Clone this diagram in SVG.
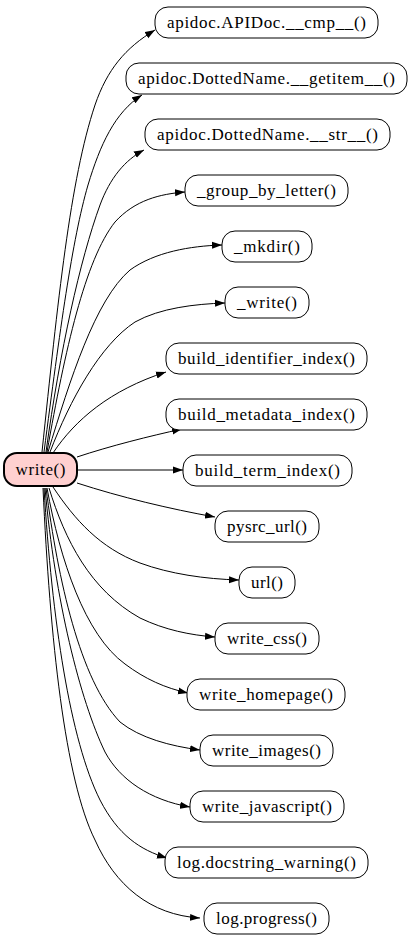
<svg xmlns="http://www.w3.org/2000/svg" width="413" height="939" viewBox="0 0 413 939">
<style>
.n rect{fill:#ffffff;stroke:#000000;stroke-width:1}
.n text{font-family:"Liberation Serif","Times New Roman",serif;font-size:17px;fill:#000000;text-anchor:middle}
#write rect{fill:#ffd0d0;stroke-width:2}
#edges path{fill:none;stroke:#000000;stroke-width:1;marker-end:url(#ah)}
</style>
<defs>
<marker id="ah" markerWidth="10" markerHeight="8" refX="10" refY="4" orient="auto" markerUnits="userSpaceOnUse">
<path d="M0,0.5 L10,4 L0,7.5 z" fill="#000000"/>
</marker>
</defs>
<rect width="413" height="939" fill="#ffffff"/>
<g id="edges">
<path d="M42,452 C58,300 70,180 95,105 C107,70 125,48 155,30"/>
<path d="M44,452 C60,330 72,240 88,185 C100,145 115,112 142,95"/>
<path d="M46,452 C60,350 80,260 100,205 C110,178 125,160 144,150"/>
<path d="M47,452 C65,350 85,260 115,222 C135,200 160,194 185,192"/>
<path d="M48,452 C70,380 95,300 130,270 C155,252 190,246 222,245"/>
<path d="M50,452 C70,400 100,345 135,322 C160,308 195,304 225,303"/>
<path d="M53,453 C75,420 110,390 166,372"/>
<path d="M77,457 C110,446 150,436 182,429"/>
<path d="M77,470 L183,470"/>
<path d="M77,483 C120,497 170,509 215,517"/>
<path d="M53,487 C75,520 100,548 140,563 C170,574 205,579 239,580"/>
<path d="M49,488 C65,540 90,590 140,618 C165,630 190,635 215,637"/>
<path d="M47,488 C60,560 85,635 125,664 C145,679 165,688 188,693"/>
<path d="M46,488 C58,580 80,680 120,722 C140,738 170,746 200,750"/>
<path d="M45,488 C55,600 80,700 105,752 C120,780 150,800 190,807"/>
<path d="M44,488 C52,620 70,740 100,800 C118,835 140,850 167,858"/>
<path d="M43,488 C50,640 65,780 95,840 C115,885 150,915 200,918"/>
</g>
<g id="write" class="n"><rect x="4" y="453" width="73" height="33" rx="13"/><text x="40.5" y="475" textLength="50" lengthAdjust="spacing">write()</text></g>
<g id="n1" class="n"><rect x="155" y="7" width="223" height="31" rx="13"/><text x="266.5" y="28" textLength="199" lengthAdjust="spacing">apidoc.APIDoc.__cmp__()</text></g>
<g id="n2" class="n"><rect x="126" y="63" width="281" height="31" rx="13"/><text x="266.5" y="84" textLength="257" lengthAdjust="spacing">apidoc.DottedName.__getitem__()</text></g>
<g id="n3" class="n"><rect x="145" y="119" width="245" height="31" rx="13"/><text x="267.5" y="140" textLength="221" lengthAdjust="spacing">apidoc.DottedName.__str__()</text></g>
<g id="n4" class="n"><rect x="185" y="175" width="163" height="31" rx="13"/><text x="266.5" y="196" textLength="139" lengthAdjust="spacing">_group_by_letter()</text></g>
<g id="n5" class="n"><rect x="222" y="231" width="90" height="31" rx="13"/><text x="267" y="252" textLength="66" lengthAdjust="spacing">_mkdir()</text></g>
<g id="n6" class="n"><rect x="225" y="287" width="84" height="31" rx="13"/><text x="267" y="308" textLength="60" lengthAdjust="spacing">_write()</text></g>
<g id="n7" class="n"><rect x="166" y="343" width="201" height="31" rx="13"/><text x="266.5" y="364" textLength="177" lengthAdjust="spacing">build_identifier_index()</text></g>
<g id="n8" class="n"><rect x="166" y="399" width="201" height="31" rx="13"/><text x="266.5" y="420" textLength="177" lengthAdjust="spacing">build_metadata_index()</text></g>
<g id="n9" class="n"><rect x="183" y="455" width="169" height="31" rx="13"/><text x="267.5" y="476" textLength="145" lengthAdjust="spacing">build_term_index()</text></g>
<g id="n10" class="n"><rect x="215" y="511" width="104" height="31" rx="13"/><text x="267" y="532" textLength="80" lengthAdjust="spacing">pysrc_url()</text></g>
<g id="n11" class="n"><rect x="239" y="567" width="56" height="31" rx="13"/><text x="267" y="588" textLength="32" lengthAdjust="spacing">url()</text></g>
<g id="n12" class="n"><rect x="215" y="623" width="104" height="31" rx="13"/><text x="267" y="644" textLength="80" lengthAdjust="spacing">write_css()</text></g>
<g id="n13" class="n"><rect x="187" y="679" width="158" height="31" rx="13"/><text x="266" y="700" textLength="134" lengthAdjust="spacing">write_homepage()</text></g>
<g id="n14" class="n"><rect x="200" y="735" width="133" height="31" rx="13"/><text x="266.5" y="756" textLength="109" lengthAdjust="spacing">write_images()</text></g>
<g id="n15" class="n"><rect x="190" y="791" width="154" height="31" rx="13"/><text x="267" y="812" textLength="130" lengthAdjust="spacing">write_javascript()</text></g>
<g id="n16" class="n"><rect x="165" y="847" width="203" height="31" rx="13"/><text x="266.5" y="868" textLength="179" lengthAdjust="spacing">log.docstring_warning()</text></g>
<g id="n17" class="n"><rect x="204" y="903" width="125" height="31" rx="13"/><text x="266.5" y="924" textLength="101" lengthAdjust="spacing">log.progress()</text></g>
</svg>
